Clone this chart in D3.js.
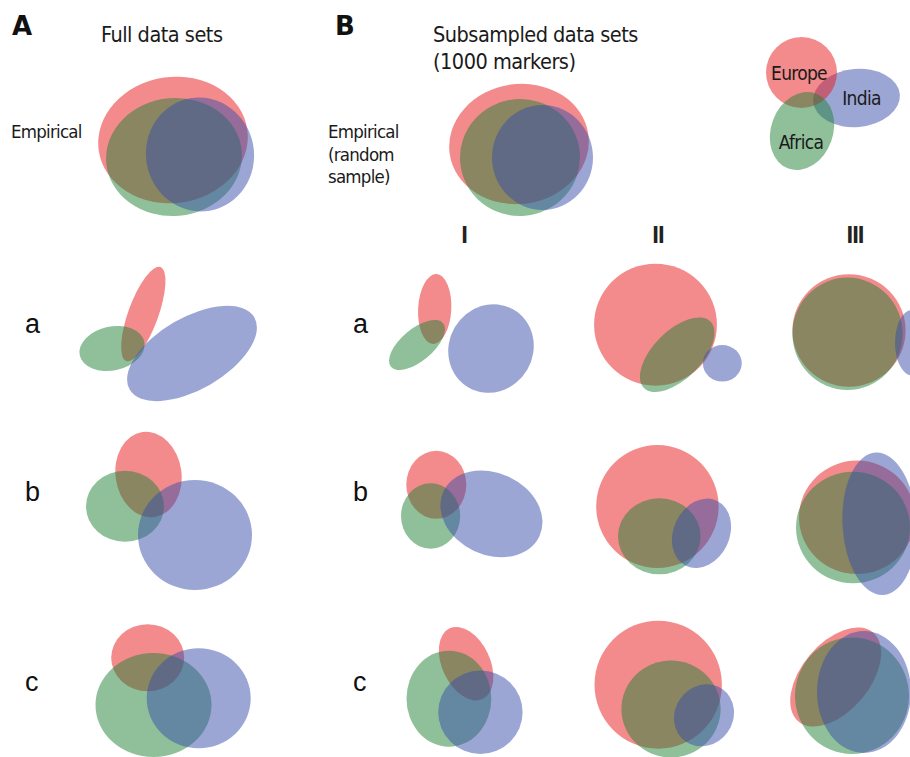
<!DOCTYPE html>
<html>
<head>
<meta charset="utf-8">
<script src="https://cdn.jsdelivr.net/npm/d3@7"></script>
<style>
  html, body { margin: 0; padding: 0; background: #fff; }
  svg { display: block; }
  .cond { font-family: "DejaVu Sans Condensed", "DejaVu Sans", sans-serif; font-stretch: condensed; fill: #1a1a1a; }
  .panel-letter { font-family: "DejaVu Sans", sans-serif; font-weight: bold; fill: #111; }
  .row-letter { font-family: "Liberation Sans", Arial, sans-serif; fill: #111; }
  .roman { font-family: "Liberation Sans", Arial, sans-serif; font-weight: bold; fill: #222; }
</style>
</head>
<body>
<script>
// Populations and their colours (drawn at half opacity)
const sets = ["Europe", "Africa", "India"];
const setColors = ["#e7171a", "#1f8135", "#394da9"];

// Panels: empirical overlaps (full / subsampled) and scenarios a–c under settings I–III
const panelIds = ["A.emp", "B.emp",
                  "A.a", "I.a", "II.a", "III.a",
                  "A.b", "I.b", "II.b", "III.b",
                  "A.c", "I.c", "II.c", "III.c"];

// Ellipse per panel: [dx, dy, rx, ry, rotation°] relative to the panel centre
const europe = [
  [-2, -7, 75, 63, -8], [-1, -3, 70, 60, -8],
  [-31.7, -16, 15, 50, 20], [-29.3, -21, 16.6, 35, 3], [-2.5, -5.3, 61.4, 61, 0], [-6, 0.5, 56.6, 56.2, 0],
  [-26.5, -35.5, 33, 43, -8], [-27.7, -25.2, 30, 34, 0], [-0.6, -3.5, 61.2, 61.5, 0], [2, 7.3, 58, 56.7, 0],
  [-27.3, -32.3, 36.5, 33.5, 0], [2.1, -26.3, 24, 39, -25], [0.2, -5.3, 63.7, 64, 0], [-19.3, -13, 58, 34, -50]
];
const africa = [
  [-1, 10, 68, 59, -5], [0, 10.5, 60, 58.5, -5],
  [-63, 18.5, 33, 22, -12], [-47, 15, 34, 16, -40], [19.2, 24.7, 47, 24, -45], [-7.5, 3.8, 55.1, 56.2, 0],
  [-50, -3.7, 39, 35.5, 0], [-33.4, 6, 29.6, 32.7, 0], [1.3, 26.3, 41.3, 38, 0], [-2, 17.5, 57, 55.8, 0],
  [-21.5, 15, 58, 52, 0], [-15.1, 8.7, 42.4, 48, 0], [13, 19, 49.6, 48.5, 0], [-3, 5.7, 57, 58.3, 0]
];
const india = [
  [25, 7.5, 54, 57, -10], [22.5, 10.5, 50.5, 52.5, 0],
  [17, 23.5, 72, 36, -30], [27, 18.5, 42, 45, 30], [64.3, 33.3, 19.4, 18.3, 0], [57, 12.7, 17, 32.7, 0],
  [20, 25, 57, 55, 0], [27.4, 3.8, 53, 41, 25], [43.5, 23.3, 28, 36, 25], [24.5, 13.7, 37, 71.3, -3],
  [23.7, 8.3, 52, 50, 0], [16.4, 22.3, 42.2, 41.7, 0], [46, 25.3, 29, 32, 35], [9, 2, 47, 61, 0]
];

// Key: ellipse per population and its label offset
const keyOrder = ["India", "Europe", "Africa"];
const keyShapes = [[26.5, -2, 43.5, 29, -5], [-28.5, -27.5, 35.5, 35.5, 0], [-28, 31, 31, 40, 20]];
const keyLabelOffsets = [[5, 0.5], [-2.5, 0.5], [-1, 11.7]];

const rowLetters = ["a", "b", "c"];
const settingLabels = ["I", "II", "III"];

// ---- layout ----
const W = 910, H = 757;
const colX = { A: 175, B: 520, I: 464, II: 658, III: 855, key: 830 };
const rowY = { emp: 147, a: 330, b: 510, c: 690, key: 100 };

const svg = d3.select("body").append("svg")
  .attr("width", W).attr("height", H)
  .attr("viewBox", `0 0 ${W} ${H}`);

function panelScales(cx, cy) {
  return {
    x: d3.scaleLinear().domain([-100, 100]).range([cx - 100, cx + 100]),
    y: d3.scaleLinear().domain([-100, 100]).range([cy - 100, cy + 100]),
    k: d3.scaleLinear().domain([0, 100]).range([0, 100])
  };
}

function drawEllipse(g, s, e, color) {
  g.append("ellipse")
    .attr("transform", `translate(${s.x(e[0])},${s.y(e[1])}) rotate(${e[4]})`)
    .attr("rx", s.k(e[2])).attr("ry", s.k(e[3]))
    .attr("fill", color).attr("fill-opacity", 0.5);
}

const byName = { Europe: europe, Africa: africa, India: india };

panelIds.forEach((id, i) => {
  const [col, row] = id.split(".");
  const s = panelScales(colX[col], rowY[row]);
  const g = svg.append("g").attr("class", "panel");
  sets.forEach((name, j) => drawEllipse(g, s, byName[name][i], setColors[j]));
});

// key
{
  const s = panelScales(colX.key, rowY.key);
  const g = svg.append("g").attr("class", "key");
  keyOrder.forEach((name, i) => drawEllipse(g, s, keyShapes[i], setColors[sets.indexOf(name)]));
  keyOrder.forEach((name, i) => {
    g.append("text").attr("class", "cond")
      .attr("x", s.x(keyShapes[i][0] + keyLabelOffsets[i][0]))
      .attr("y", s.y(keyShapes[i][1] + keyLabelOffsets[i][1]) + 6.5)
      .attr("text-anchor", "middle")
      .style("font-size", "19px").style("letter-spacing", "-0.7px")
      .text(name);
  });
}

// headings
svg.append("text").attr("class", "panel-letter").attr("x", 12).attr("y", 35).style("font-size", "26px").text("A");
svg.append("text").attr("class", "panel-letter").attr("x", 335).attr("y", 35).style("font-size", "26px").text("B");
const heading = (x, y, t) => svg.append("text").attr("class", "cond").attr("x", x).attr("y", y)
  .style("font-size", "21.5px").style("letter-spacing", "-0.5px").text(t);
heading(101, 41.5, "Full data sets");
heading(433, 41.5, "Subsampled data sets");
heading(433, 68.5, "(1000 markers)");

const sideLabel = (x, y, t) => svg.append("text").attr("class", "cond").attr("x", x).attr("y", y)
  .style("font-size", "18.5px").style("letter-spacing", "-0.75px").text(t);
sideLabel(11, 137.5, "Empirical");
["Empirical", "(random", "sample)"].forEach((t, i) => sideLabel(328, 138 + i * 22.5, t));

// row letters
const letterY = [333, 501, 691];
rowLetters.forEach((t, i) => {
  [25, 353].forEach(x => {
    svg.append("text").attr("class", "row-letter").attr("x", x).attr("y", letterY[i])
      .style("font-size", "27px").text(t);
  });
});

// setting numerals
settingLabels.forEach(t => {
  svg.append("text").attr("class", "roman").attr("x", colX[t]).attr("y", 243)
    .attr("text-anchor", "middle").style("font-size", "24px").style("letter-spacing", "-1px").text(t);
});
</script>
</body>
</html>
